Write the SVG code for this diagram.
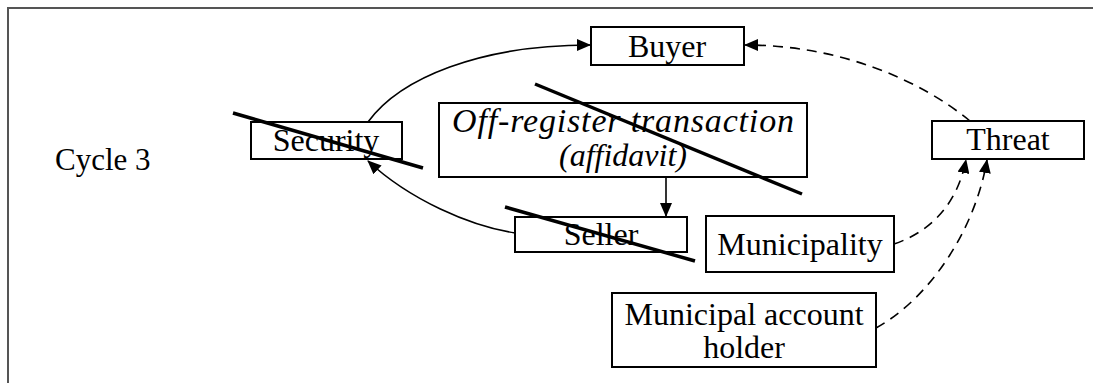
<svg xmlns="http://www.w3.org/2000/svg" width="1093" height="383" viewBox="0 0 1093 383">
<defs>
<marker id="ah" viewBox="0 0 14 12" refX="13" refY="6" markerWidth="14" markerHeight="12" markerUnits="userSpaceOnUse" orient="auto">
<path d="M0,0 L14,6 L0,12 Z" fill="#000"/>
</marker>
</defs>
<style>
.box{fill:#fff;stroke:#000;stroke-width:2}
.t{font-size:32px;fill:#000;text-anchor:middle}
.i{font-style:italic}
.strike{stroke:#000;stroke-width:3.5;fill:none}
.c{fill:none;stroke:#000;stroke-width:1.6}
.d{stroke-dasharray:10,7}
</style>
<rect width="1093" height="383" fill="#fff"/>
<path d="M8,383 L8,8 L1093,8" fill="none" stroke="#555" stroke-width="2"/>
<g font-family="Liberation Serif, Times New Roman, serif">
<text class="t" x="55" y="170" style="text-anchor:start;font-size:31px">Cycle 3</text>

<g id="buyer"><rect class="box" x="591" y="27" width="153" height="38"/><text class="t" x="667" y="57">Buyer</text></g>
<g id="security"><rect class="box" x="251" y="122" width="151" height="37"/><text class="t" x="326" y="151">Security</text></g>
<g id="offregister"><rect class="box" x="439" y="103" width="368" height="74"/><text class="t i" x="623" y="132" style="font-size:34px" textLength="342" lengthAdjust="spacing">Off-register transaction</text><text class="t i" x="623" y="166">(affidavit)</text></g>
<g id="seller"><rect class="box" x="515" y="217" width="172" height="35"/><text class="t" x="601" y="245">Seller</text></g>
<g id="municipality"><rect class="box" x="706" y="216" width="188" height="56"/><text class="t" x="800" y="255">Municipality</text></g>
<g id="accountholder"><rect class="box" x="612" y="293" width="264" height="74"/><text class="t" x="744" y="325">Municipal account</text><text class="t" x="744" y="358">holder</text></g>
<g id="threat"><rect class="box" x="932" y="121" width="152" height="38"/><text class="t" x="1008" y="150">Threat</text></g>
</g>

<g id="strikes">
<line class="strike" x1="233" y1="113" x2="423" y2="168"/>
<line class="strike" x1="535" y1="84" x2="802" y2="194"/>
<line class="strike" x1="505" y1="207" x2="695" y2="261"/>
</g>

<g id="connectors">
<path class="c" d="M368,122 C400,78 480,45 590,45" marker-end="url(#ah)"/>
<path class="c" d="M515,233 C470,226 410,200 368,161" marker-end="url(#ah)"/>
<path class="c" d="M666,177 L666,216" marker-end="url(#ah)"/>
<path class="c d" d="M970,121 C920,80 840,45 745,45" marker-end="url(#ah)"/>
<path class="c d" d="M894,244 C935,230 958,200 966,160" marker-end="url(#ah)"/>
<path class="c d" d="M876,328 C930,298 975,230 987,160" marker-end="url(#ah)"/>
</g>
</svg>
